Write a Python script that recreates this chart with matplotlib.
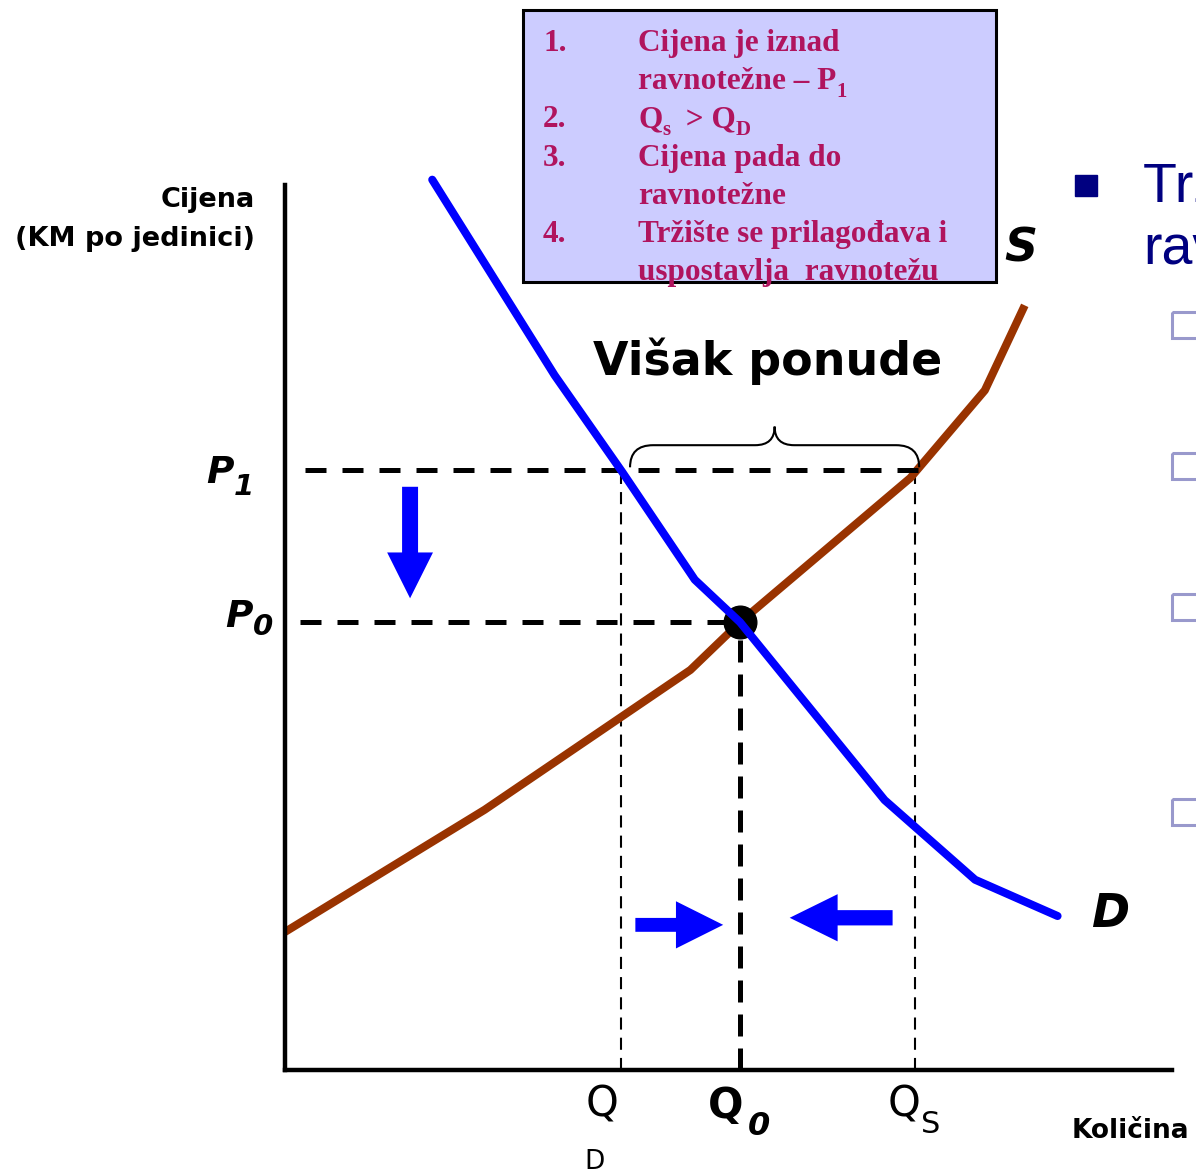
import matplotlib.pyplot as plt
from matplotlib.patches import Rectangle, PathPatch
from matplotlib.path import Path

W, H, DPI = 1196, 1176, 100

# supply / demand (quantity, price), axes 0..100
supply_q = [0, 22.5, 45.7, 51.3, 70.5, 78.9, 83.4]
supply_p = [15.6, 29.4, 45.2, 50.6, 66.9, 76.8, 86.4]
demand_q = [16.6, 30.4, 38.0, 46.2, 51.3, 67.6, 77.8, 87.1]
demand_p = [100.6, 78.5, 67.6, 55.4, 50.6, 30.5, 21.5, 17.4]

P1, P0 = 67.8, 50.6
QD, Q0, QS = 37.9, 51.3, 71.0

box_lines = [
    ("1.", [("Cijena je iznad", False)]),
    ("", [("ravnotežne – P", False), ("1", True)]),
    ("2.", [("Q", False), ("s", True), ("  > Q", False), ("D", True)]),
    ("3.", [("Cijena pada do", False)]),
    ("", [("ravnotežne", False)]),
    ("4.", [("Tržište se prilagođava i", False)]),
    ("", [("uspostavlja  ravnotežu", False)]),
]

BLUE = "#0000FF"
BROWN = "#993300"
MAGENTA = "#B0145E"
NAVY = "#000080"
SANS = "DejaVu Sans"
SERIF = "Liberation Serif"

fig = plt.figure(figsize=(W / DPI, H / DPI), dpi=DPI)

# overlay in pixel units (origin top-left) for labels and decorations
ov = fig.add_axes([0, 0, 1, 1])
ov.set_xlim(0, W)
ov.set_ylim(H, 0)
ov.axis("off")

ax = fig.add_axes([285 / W, (H - 1070) / H, (1172 - 285) / W, (1070 - 185) / H])
ax.set_xlim(0, 100)
ax.set_ylim(0, 100)
ax.patch.set_visible(False)
for side in ("top", "right"):
    ax.spines[side].set_visible(False)
for side in ("left", "bottom"):
    ax.spines[side].set_linewidth(3.2)
    ax.spines[side].set_color("black")
ax.set_xticks([])
ax.set_yticks([])

renderer = fig.canvas.get_renderer()


def rich(x, y, parts, size, sub_size, drop, **kw):
    """Place text pieces left to right on one baseline, subscripts dropped."""
    inv = ov.transData.inverted()
    placed = []
    for s, is_sub in parts:
        t = ov.text(x, y + (drop if is_sub else 0), s,
                    fontsize=sub_size if is_sub else size,
                    ha="left", va="baseline", **kw)
        bb = t.get_window_extent(renderer)
        x = inv.transform((bb.x1, bb.y0))[0]
        placed.append(t)
    return placed


# guide lines
thick = dict(color="black", lw=3.6, zorder=3)
thin = dict(color="black", lw=1.5, ls=(0, (5.8, 3.9)), zorder=1)
ax.plot([2.3, 72.2], [P1, P1], ls=(0, (4.2, 3.2)), **thick)
ax.plot([1.7, Q0], [P0, P0], ls=(0, (4.2, 3.2)), **thick)
ax.plot([Q0, Q0], [0, P0], ls=(0, (4.4, 2.4)), **thick)
ax.plot([QD, QD], [0, P1], **thin)
ax.plot([QS, QS], [0, P1], **thin)

# curves
ax.plot(supply_q, supply_p, color=BROWN, lw=5.8, solid_capstyle="butt",
        solid_joinstyle="round", clip_on=False, zorder=2)
ax.plot(Q0, P0, "o", ms=23.5, color="black", zorder=4)
ax.plot(demand_q, demand_p, color=BLUE, lw=5.8, solid_capstyle="round",
        solid_joinstyle="round", clip_on=False, zorder=5)

# brace over the surplus
x0, x1 = QD + 1.0, QS + 0.5
xm = (x0 + x1) / 2
yb, yf, yp = P1 + 0.3, P1 + 2.8, P1 + 4.9
verts = [(x0, yb), (x0, yf), (x0 + 2.6, yf), (xm - 2.2, yf), (xm, yf), (xm, yp),
         (xm, yf), (xm + 2.2, yf), (x1 - 2.6, yf), (x1, yf), (x1, yb)]
codes = [Path.MOVETO, Path.CURVE3, Path.CURVE3, Path.LINETO, Path.CURVE3, Path.CURVE3,
         Path.CURVE3, Path.CURVE3, Path.LINETO, Path.CURVE3, Path.CURVE3]
ax.add_patch(PathPatch(Path(verts, codes), fill=False, lw=1.5, color="black",
                       clip_on=False, zorder=3))

# movement arrows
def block_arrow(tail, tip, shaft, head_w, head_l):
    ax.annotate("", xy=tip, xytext=tail, annotation_clip=False,
                arrowprops=dict(arrowstyle=f"simple,head_length={head_l},head_width={head_w},tail_width={shaft}",
                                mutation_scale=1, color=BLUE, lw=0, shrinkA=0, shrinkB=0))

block_arrow((14.1, 65.9), (14.1, 53.3), 11.5, 33, 33)
block_arrow((39.5, 16.4), (49.4, 16.4), 10, 34, 34)
block_arrow((68.5, 17.2), (56.9, 17.2), 11, 34, 34.5)

ov.text(768, 375, "Višak ponude", fontsize=33, weight="bold", family=SANS,
        ha="center", va="baseline")

# axis titles
ov.text(255, 207, "Cijena", fontsize=19.5, weight="bold", family=SANS, ha="right", va="baseline")
ov.text(255, 246, "(KM po jedinici)", fontsize=19.5, weight="bold", family=SANS,
        ha="right", va="baseline")
ov.text(1072, 1138, "Količina", fontsize=19, weight="bold", family=SANS, ha="left", va="baseline")

# price / quantity labels
bi = dict(family=SANS, weight="bold", style="italic")
rich(206, 483, [("P", False), ("1", True)], 27, 21, 12, **bi)
rich(225, 627, [("P", False), ("0", True)], 27, 21, 8, **bi)
ov.text(1004, 262, "S", fontsize=33, **bi, ha="left", va="baseline")
ov.text(1091, 927, "D", fontsize=33, **bi, ha="left", va="baseline")

rich(586, 1117, [("Q", False)], 30, 18, 0, family=SANS)
ov.text(584, 1169, "D", fontsize=19, family=SANS, ha="left", va="baseline")
ov.text(708, 1118, "Q", fontsize=30, family=SANS, weight="bold", ha="left", va="baseline")
ov.text(748, 1135, "0", fontsize=23, **bi, ha="left", va="baseline")
rich(888, 1117, [("Q", False), ("S", True)], 30, 22, 16, family=SANS)

# text box
rect = Rectangle((523, 10), 473, 272, facecolor="#CCCCFF", edgecolor="black", lw=2.2, zorder=1)
ov.add_patch(rect)
for i, (num, parts) in enumerate(box_lines):
    base = 51 + i * 38.2
    texts = []
    if num:
        texts.append(ov.text(543, base, num, fontsize=22.5, family=SERIF, weight="bold",
                             color=MAGENTA, ha="left", va="baseline", zorder=2))
    texts += rich(638, base, parts, 22.5, 15, 8, family=SERIF, weight="bold",
                  color=MAGENTA, zorder=2)
    for t in texts:
        t.set_clip_path(rect)

# right-hand slide text, cut by the page edge as in the source slide
ov.add_patch(Rectangle((1075, 175), 22, 21, color=NAVY))
ov.text(1143, 201, "Tržište se", fontsize=40, family="Liberation Sans", color=NAVY,
        ha="left", va="baseline", clip_on=True)
ov.text(1143, 264, "ravnotežu", fontsize=40, family="Liberation Sans", color=NAVY,
        ha="left", va="baseline", clip_on=True)
for yc in (325, 466, 607, 812):
    ov.add_patch(Rectangle((1172, yc - 13), 40, 26, fill=False, edgecolor="#9999CC",
                           lw=2.2, clip_on=True))

fig.savefig("out.png", dpi=DPI)
